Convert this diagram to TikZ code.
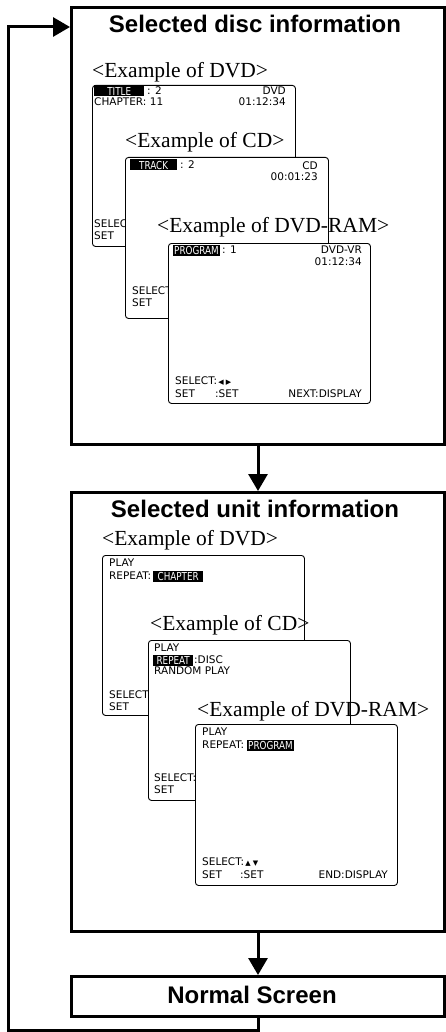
\documentclass[tikz,border=0pt]{standalone}
\usepackage{fontspec}
\setmainfont{Liberation Serif}
\newfontfamily\hdfont{Liberation Sans}
\newfontfamily\scrfont{DejaVu Sans}
\newfontfamily\hlfont[FakeStretch=0.8]{DejaVu Sans}
\newfontfamily\symfont{DejaVu Sans}
\usetikzlibrary{arrows.meta}
\begin{document}
\begin{tikzpicture}[x=1pt,y=-1pt,
  bigbox/.style={draw, line width=3pt, fill=white, anchor=north west, inner sep=0pt},
  boxtitle/.style={font=\hdfont\bfseries\fontsize{24}{24}\selectfont, inner sep=0pt},
  exlabel/.style={font=\fontsize{21.5}{21.5}\selectfont, anchor=west, inner sep=0pt},
  screen/.style={draw, line width=0.9pt, rounded corners=3pt, fill=white, anchor=north west, inner sep=0pt},
  stext/.style={font=\scrfont\fontsize{10.5}{10.5}\selectfont, anchor=west, inner sep=0pt},
  stextr/.style={stext, anchor=east},
  hl/.style={font=\hlfont\fontsize{11}{11}\selectfont, anchor=west, fill=black, text=white, inner xsep=1pt, inner ysep=0pt, minimum height=11pt},
  flow/.style={line width=3pt, line join=miter, -{Triangle[width=19pt,length=17pt]}},
]
\useasboundingbox (0,0) rectangle (445,1032);

% ---------- Box 1: Selected disc information ----------
\node[bigbox, minimum width=373pt, minimum height=437pt] (disc) at (70,6) {};
\node[boxtitle] (disctitle) at (255,24) {Selected disc information};

% DVD example
\node[exlabel] (lA1) at (92,72) {<Example of DVD>};
\node[screen, minimum width=203pt, minimum height=161pt] (sA1) at (92,85) {};
\node[hl, minimum width=50pt] (hA1) at (94,91) {TITLE};
\node[stext] (tA1a) at (147,91) {: 2};
\node[stextr] (tA1b) at (286,91) {DVD};
\node[stext] (tA1c) at (94,102) {CHAPTER: 11};
\node[stextr] (tA1d) at (286,102) {01:12:34};
\node[stext] (tA1e) at (94,224) {SELECT:};
\node[stext] (tA1f) at (94,236) {SET};

% CD example
\node[exlabel] (lA2) at (125,142) {<Example of CD>};
\node[screen, minimum width=203pt, minimum height=161pt] (sA2) at (125,157) {};
\node[hl, minimum width=47pt] (hA2) at (130,165) {TRACK};
\node[stext] (tA2a) at (180,165) {: 2};
\node[stextr] (tA2b) at (318,166) {CD};
\node[stextr] (tA2c) at (318,177) {00:01:23};
\node[stext] (tA2d) at (132,291) {SELECT:};
\node[stext] (tA2e) at (132,303) {SET};

% DVD-RAM example
\node[exlabel] (lA3) at (157,227) {<Example of DVD-RAM>};
\node[screen, minimum width=202pt, minimum height=160pt] (sA3) at (168,243) {};
\node[hl, minimum width=45pt] (hA3) at (173,250) {PROGRAM};
\node[stext] (tA3a) at (222,250) {: 1};
\node[stextr] (tA3b) at (362,250) {DVD-VR};
\node[stextr] (tA3c) at (362,262) {01:12:34};
\node[stext] (tA3d) at (175,381) {SELECT:{\symfont\fontsize{7}{7}\selectfont\,◀\,\,▶}};
\node[stext] (tA3e) at (175,394) {SET};
\node[stext] (tA3f) at (215,394) {:SET};
\node[stextr] (tA3g) at (362,394) {NEXT:DISPLAY};

% ---------- Box 2: Selected unit information ----------
\node[bigbox, minimum width=373pt, minimum height=439pt] (unit) at (70,491) {};
\node[boxtitle] (unittitle) at (255,509) {Selected unit information};

% DVD example
\node[exlabel] (lB1) at (102,540) {<Example of DVD>};
\node[screen, minimum width=202pt, minimum height=160pt] (sB1) at (102,555) {};
\node[stext] (tB1a) at (109,563) {PLAY};
\node[stext] (tB1b) at (109,576) {REPEAT:};
\node[hl, minimum width=50pt] (hB1) at (153,576) {CHAPTER};
\node[stext] (tB1c) at (109,695) {SELECT:};
\node[stext] (tB1d) at (109,707) {SET};

% CD example
\node[exlabel] (lB2) at (150,625) {<Example of CD>};
\node[screen, minimum width=202pt, minimum height=160pt] (sB2) at (148,640) {};
\node[stext] (tB2a) at (154,648) {PLAY};
\node[hl, minimum width=40pt] (hB2) at (153,660) {REPEAT};
\node[stext] (tB2b) at (194,660) {:DISC};
\node[stext] (tB2c) at (154,671) {RANDOM PLAY};
\node[stext] (tB2d) at (154,778) {SELECT:};
\node[stext] (tB2e) at (154,790) {SET};

% DVD-RAM example
\node[exlabel] (lB3) at (197,711) {<Example of DVD-RAM>};
\node[screen, minimum width=202pt, minimum height=161pt] (sB3) at (195,724) {};
\node[stext] (tB3a) at (202,732) {PLAY};
\node[stext] (tB3b) at (202,745) {REPEAT:};
\node[hl, minimum width=46pt] (hB3) at (247,745) {PROGRAM};
\node[stext] (tB3c) at (202,862) {SELECT:{\symfont\fontsize{7}{7}\selectfont\,▲\,\,▼}};
\node[stext] (tB3d) at (202,875) {SET};
\node[stext] (tB3e) at (240,875) {:SET};
\node[stextr] (tB3f) at (388,875) {END:DISPLAY};

% ---------- Normal Screen ----------
\node[bigbox, minimum width=373pt, minimum height=40pt] (normal) at (70,975) {};
\node[boxtitle] (normaltitle) at (252,995) {Normal Screen};

% ---------- Connectors ----------
\draw[flow] (disc.south) -- (unit.north);
\draw[flow] (unit.south) -- (normal.north);
\coordinate (lb) at (8,1030);
\coordinate (lt) at (8,27);
\draw[flow] (normal.south) |- (lb) -- (lt) -- (lt -| disc.west);
\end{tikzpicture}
\end{document}
